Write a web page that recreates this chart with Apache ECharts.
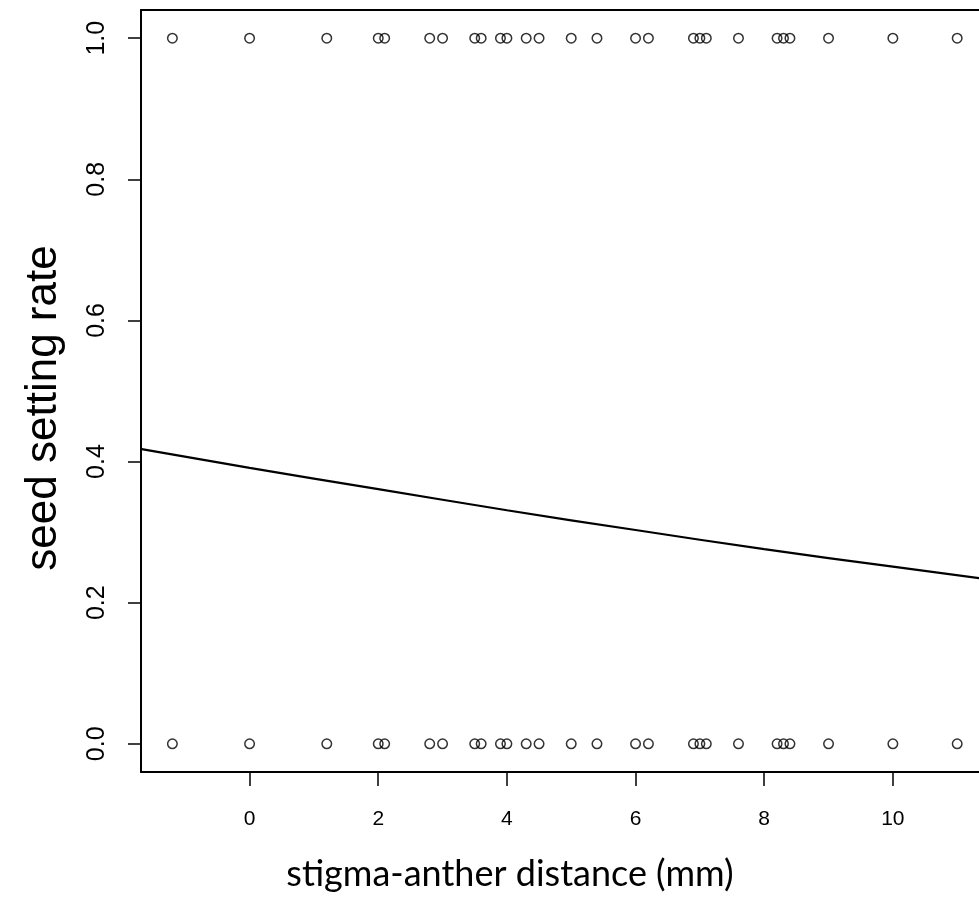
<!DOCTYPE html>
<html>
<head>
<meta charset="utf-8">
<title>seed setting rate</title>
<script src="https://cdn.jsdelivr.net/npm/echarts@6/dist/echarts.min.js"></script>
<style>
  html, body { margin: 0; padding: 0; background: #fff; }
  #main { width: 979px; height: 902px; }
</style>
</head>
<body>
<div id="main"></div>
<script>
// points: flowers that set seed (y = 1) and did not (y = 0)
var setX = [-1.2, 0, 1.2, 2.0, 2.1, 2.8, 3.0, 3.5, 3.6, 3.9, 4.0, 4.3, 4.5,
            5.0, 5.4, 6.0, 6.2, 6.9, 7.0, 7.1, 7.6, 8.2, 8.3, 8.4, 9.0, 10.0, 11.0];
var noSetX = [-1.2, 0, 1.2, 2.0, 2.1, 2.8, 3.0, 3.5, 3.6, 3.9, 4.0, 4.3, 4.5,
              5.0, 5.4, 6.0, 6.2, 6.9, 7.0, 7.1, 7.6, 8.2, 8.3, 8.4, 9.0, 10.0, 11.0];
// fitted curve
var curveX = [-1.7, 0, 2, 4, 6, 8, 10, 11.5];
var curveY = [0.418, 0.391, 0.361, 0.331, 0.303, 0.276, 0.251, 0.233];
// tick labels
var xTicks = [0, 2, 4, 6, 8, 10];
var yTicks = [0, 0.2, 0.4, 0.6, 0.8, 1.0];

var chart = echarts.init(document.getElementById('main'), null, { renderer: 'canvas' });

var pts = [];
for (var i = 0; i < setX.length; i++) pts.push([setX[i], 1]);
for (var i = 0; i < noSetX.length; i++) pts.push([noSetX[i], 0]);
var curve = [];
for (var i = 0; i < curveX.length; i++) curve.push([curveX[i], curveY[i]]);

// the plot box runs off the right side of the picture, so no right border
var boxLine = { show: true, onZero: false, lineStyle: { color: '#000', width: 2 } };

var option = {
  backgroundColor: '#ffffff',
  animation: false,
  grid: { left: 141, top: 10, right: 0, height: 762 },
  xAxis: [
    {
      type: 'value', position: 'bottom', min: -1.688, max: 11.339,
      splitLine: { show: false },
      axisLine: boxLine,
      axisTick: { show: true, length: 14, lineStyle: { color: '#000', width: 1.5 }, customValues: xTicks },
      axisLabel: {
        customValues: xTicks, margin: 37, color: '#000',
        fontFamily: 'Liberation Sans, Arial, sans-serif', fontSize: 21
      }
    },
    {
      type: 'value', position: 'top', min: -1.688, max: 11.339,
      splitLine: { show: false },
      axisLine: boxLine,
      axisTick: { show: false },
      axisLabel: { show: false }
    }
  ],
  yAxis: {
    type: 'value', min: -0.04, max: 1.04,
    splitLine: { show: false },
    axisLine: boxLine,
    axisTick: { show: true, length: 13, lineStyle: { color: '#000', width: 1.5 }, customValues: yTicks },
    axisLabel: {
      customValues: yTicks, rotate: 90, margin: 31, color: '#000',
      fontFamily: 'Liberation Sans, Arial, sans-serif', fontSize: 25,
      formatter: function (v) { return v.toFixed(1); }
    }
  },
  graphic: [
    {
      type: 'text', x: 44, y: 408, rotation: Math.PI / 2,
      style: {
        text: 'seed setting rate', fill: '#000',
        fontFamily: 'Liberation Sans, Arial, sans-serif', fontSize: 44,
        align: 'center', verticalAlign: 'middle'
      }
    },
    {
      type: 'text', x: 510, y: 874,
      style: {
        text: 'stigma-anther distance (mm)', fill: '#000',
        fontFamily: 'Lato, Open Sans, sans-serif', fontSize: 36,
        align: 'center', verticalAlign: 'middle'
      }
    }
  ],
  series: [
    {
      type: 'scatter', data: pts, symbol: 'circle', symbolSize: 9.5,
      itemStyle: { color: 'transparent', borderColor: '#000', borderWidth: 1.5 }
    },
    {
      type: 'line', data: curve, showSymbol: false, smooth: true, clip: true,
      lineStyle: { color: '#000', width: 2.2 }
    }
  ]
};
chart.setOption(option);
</script>
</body>
</html>
